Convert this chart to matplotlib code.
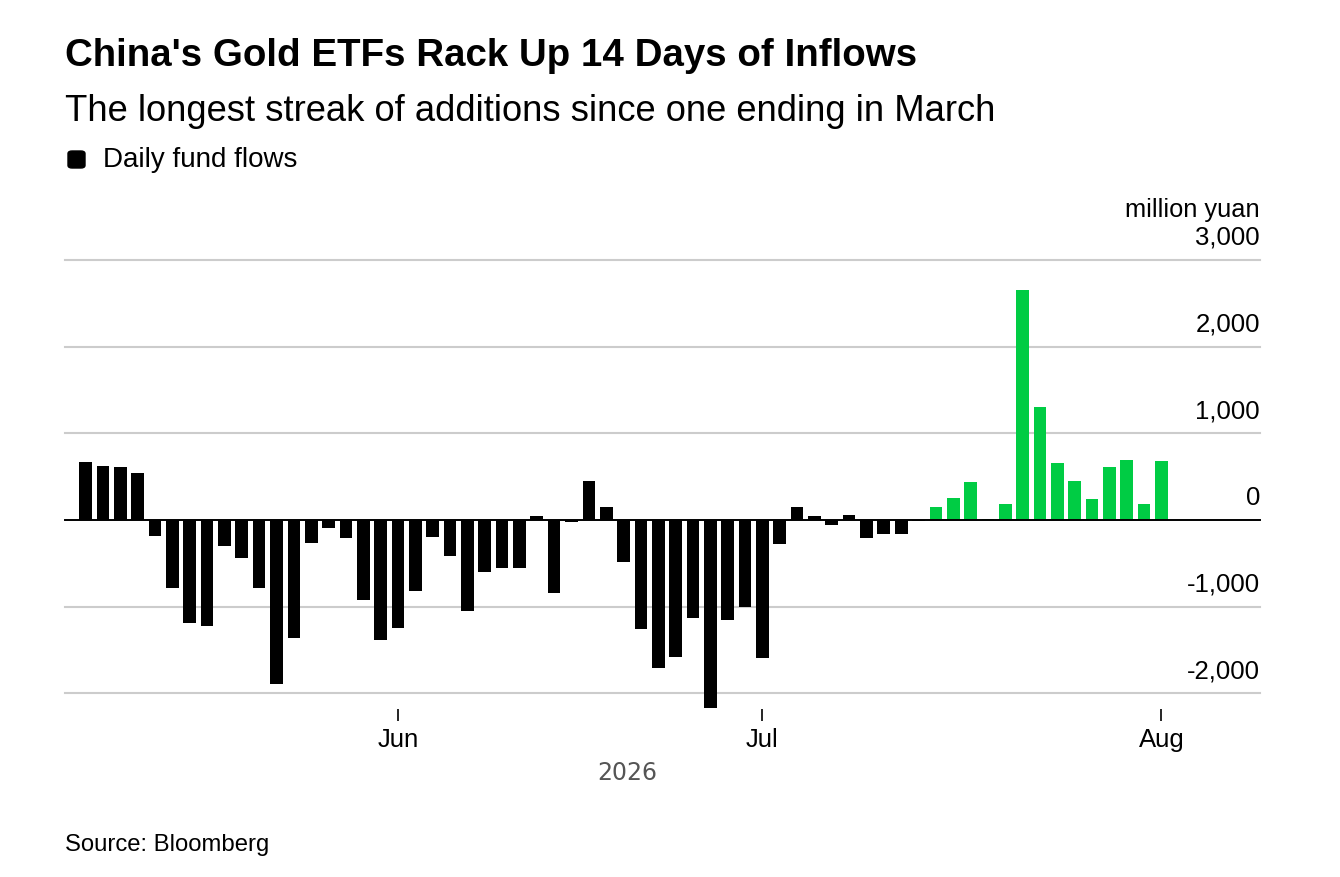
import numpy as np
import pandas as pd
import matplotlib
matplotlib.use("Agg")
import matplotlib.pyplot as plt
import matplotlib.transforms as mtransforms
from matplotlib.patches import FancyBboxPatch

plt.rcParams['font.family'] = ['Liberation Sans', 'DejaVu Sans']

# trading days, 2026-05-06 .. 2026-08-03 (Dragon Boat holiday 06-19 skipped)
dates = pd.bdate_range('2026-05-06', '2026-08-03')
dates = dates[dates != pd.Timestamp('2026-06-19')]

# daily fund flows, million yuan
flows = [665, 619, 608, 542, -181, -781, -1188, -1227, -304, -442,
         -781, -1896, -1365, -265, -88, -212, -927, -1385, -1250, -823,
         -192, -412, -1046, -596, -554, -554, 42, -846, -23, 446,
         150, -481, -1258, -1708, -1581, -1127, -2173, -1158, -1000, -1588,
         -273, 150, 50, -62, 58, -208, -166, -158, -10,
         154, 255, 444, 10, 181, 2649, 1301, 660, 448, 247, 610, 691, 181, 676]
streak = 14  # last days of inflows, shown in green

yticks = [-2000, -1000, 0, 1000, 2000, 3000]
ytick_labels = ['-2,000', '-1,000', '0', '1,000', '2,000', '3,000']
month_labels = ['Jun', 'Jul', 'Aug']

W, H = 1340, 877
fig = plt.figure(figsize=(W / 100, H / 100), dpi=100)

# axes box in pixels: x 65..1260, y 260..709
ax = fig.add_axes([65 / W, 1 - 709 / H, (1260 - 65) / W, (709 - 260) / H])

x = np.arange(len(flows))
colors = ['#000000'] * (len(flows) - streak) + ['#00cc44'] * streak
ax.bar(x, flows, width=0.73, color=colors, zorder=2)

ax.set_xlim(-1.19, 67.68)
ax.set_ylim(-2180, 3000)

for v in yticks:
    if v == 0:
        ax.axhline(0, color='black', lw=1.4, zorder=3, clip_on=False)
    else:
        ax.axhline(v, color='#cccccc', lw=1.5, zorder=1, clip_on=False)

trans = mtransforms.blended_transform_factory(ax.transAxes, ax.transData)
off = mtransforms.offset_copy(trans, fig=fig, x=0, y=15, units='dots')
for v, lab in zip(yticks, ytick_labels):
    ax.text(1.0, v, lab, transform=off, ha='right', va='baseline', fontsize=18.5)
ax.text(1.0, 3000, 'million yuan',
        transform=mtransforms.offset_copy(trans, fig=fig, x=0, y=43, units='dots'),
        ha='right', va='baseline', fontsize=18.3)

# month ticks at first trading day of each month
firsts = [i for i in range(1, len(dates)) if dates[i].month != dates[i - 1].month]
ax.set_xticks(firsts)
ax.set_xticklabels(month_labels, fontsize=18.5)
ax.tick_params(axis='x', length=8.5, width=1.2, pad=5.5, color='black')
ax.set_yticks([])
for s in ax.spines.values():
    s.set_visible(False)

ax.text((len(flows) - 1) / 2 + 0.2, (709 - 780) / (709 - 260), '2026',
        transform=ax.get_xaxis_transform(), ha='center', va='baseline',
        fontsize=17, color='#555555', family='DejaVu Sans')

# header texts
fig.text(65 / W, 1 - 66 / H, "China's Gold ETFs Rack Up 14 Days of Inflows",
         fontsize=27.7, fontweight='bold', va='baseline')
fig.text(65 / W, 1 - 121 / H, 'The longest streak of additions since one ending in March',
         fontsize=26.2, va='baseline')
fig.patches.append(FancyBboxPatch((68 / W, 1 - 168 / H), 17 / W, 17 / H,
                                  boxstyle='round,pad=0,rounding_size=0.003',
                                  transform=fig.transFigure, color='black'))
fig.text(103 / W, 1 - 167 / H, 'Daily fund flows', fontsize=20, va='baseline')
fig.text(65 / W, 1 - 851 / H, 'Source: Bloomberg', fontsize=17.2, va='baseline')

fig.savefig('out.png', dpi=100)
